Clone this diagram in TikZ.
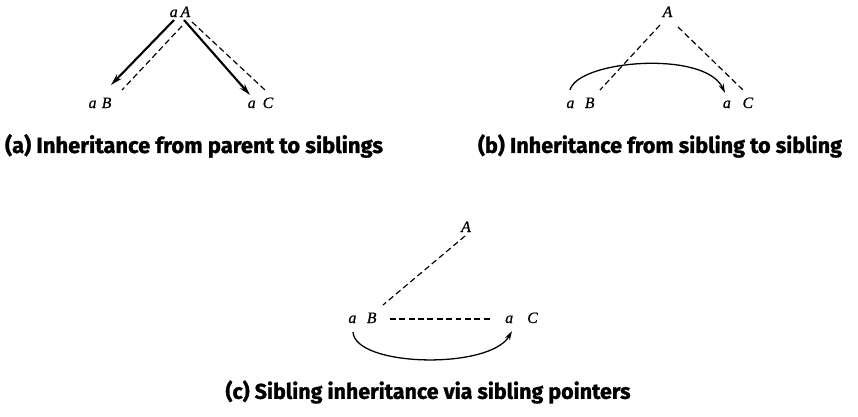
\documentclass[tikz,border=0pt]{standalone}
\usepackage{fontspec}
\setmainfont{Liberation Serif}[ItalicFeatures={FakeBold=0.8}]
\newfontfamily\capfont{Fira Sans}[BoldFeatures={FakeBold=1.2}]
\usetikzlibrary{arrows.meta}
\begin{document}
\begin{tikzpicture}[x=0.03cm,y=-0.03cm,
  lbl/.style={font=\fontsize{13.5}{15}\selectfont\itshape, inner sep=0pt, anchor=base},
  captext/.style={inner sep=0pt, anchor=center},
  solidarrow/.style={line width=1.8pt, -{Stealth[length=10pt,width=5.5pt]}},
  dashline/.style={line width=1pt, dash pattern=on 5pt off 3pt},
  curvearrow/.style={line width=1.1pt, -{Stealth[length=8pt,width=4.5pt]}}]
\useasboundingbox (0,0) rectangle (858,417);
% ---------- panel (a)
\node[lbl] (aA) at (180,17) {a\hspace{2.5pt}A};
\node[lbl] (aB) at (100,108) {a\hspace{4.5pt}B};
\node[lbl] (aC) at (260.5,108) {a\hspace{6pt}C};
\coordinate (a1) at (174,20);
\coordinate (a2) at (111,85);
\coordinate (a3) at (182,26);
\coordinate (a4) at (122,90);
\coordinate (a5) at (184,20);
\coordinate (a6) at (250,95);
\coordinate (a7) at (192,22);
\coordinate (a8) at (265,90);
\draw[solidarrow] (a1) -- (a2);
\draw[dashline] (a3) -- (a4);
\draw[solidarrow] (a5) -- (a6);
\draw[dashline] (a7) -- (a8);
\node[captext] (capa) at (194,146) {\resizebox{11.34cm}{!}{\capfont\bfseries (a) Inheritance from parent to siblings}};
% ---------- panel (b)
\node[lbl] (bA) at (667.5,17) {A};
\node[lbl] (bB) at (580.5,108) {a\hspace{9pt}B};
\node[lbl] (bC) at (738,108) {a\hspace{10pt}C};
\coordinate (b1) at (660,25);
\coordinate (b2) at (600,90);
\coordinate (b3) at (678,27);
\coordinate (b4) at (743,90);
\coordinate (b5) at (570,90);
\coordinate (b6) at (725,93);
\draw[dashline] (b1) -- (b2);
\draw[dashline] (b3) -- (b4);
\draw[curvearrow] (b5) .. controls (578,60) and (705,50) .. (b6);
\node[captext] (capb) at (660,146) {\resizebox{10.92cm}{!}{\capfont\bfseries (b) Inheritance from sibling to sibling}};
% ---------- panel (c)
\node[lbl] (cA) at (466,232) {A};
\node[lbl] (cB) at (362.5,323) {a\hspace{9pt}B};
\node[lbl] (cC) at (521.5,323) {a\hspace{12pt}C};
\coordinate (c1) at (465,236);
\coordinate (c2) at (383,305);
\coordinate (c3) at (390,319);
\coordinate (c4) at (493,319);
\coordinate (c5) at (353,332);
\coordinate (c6) at (512,331);
\draw[dashline] (c1) -- (c2);
\draw[dashline] (c3) -- (c4);
\draw[curvearrow] (c5) .. controls (355,367) and (490,370) .. (c6);
\node[captext] (capc) at (428,392) {\resizebox{12.15cm}{!}{\capfont\bfseries (c) Sibling inheritance via sibling pointers}};
\end{tikzpicture}
\end{document}
